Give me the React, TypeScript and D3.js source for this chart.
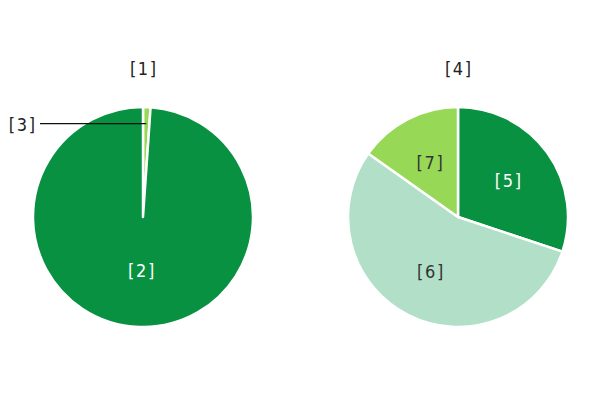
import React from "react";
import * as d3 from "d3";

const pie1Labels = ["[ 3 ]", "[ 2 ]"];
const pie1Values = [1.1, 98.9];
const pie1Colors = ["#97d957", "#079140"];
const pie1Title = "[ 1 ]";

const pie2Labels = ["[ 5 ]", "[ 6 ]", "[ 7 ]"];
const pie2Values = [30.1, 54.7, 15.2];
const pie2Colors = ["#079140", "#b1dfc8", "#97d957"];
const pie2Title = "[ 4 ]";

const W = 600, H = 400, R = 110;
const FONT = "'DejaVu Sans Condensed', 'Liberation Sans Narrow', sans-serif";
const FS = 18;

function Label(props: any) {
  return (
    <text {...props} fontSize={FS} fontFamily={FONT} fontWeight={300} style={{ wordSpacing: "-3.5px", fontStretch: "condensed" }} />
  );
}

function Pie({ cx, cy, labels, values, colors, title, insideTextColors, outsideIdx, labelR }: any) {
  const arcs = d3.pie<number>().sort(null)(values);
  const arc = d3.arc<any>().innerRadius(0).outerRadius(R);
  const labelArc = d3.arc<any>().innerRadius(R * labelR).outerRadius(R * labelR);
  return (
    <g transform={`translate(${cx},${cy})`}>
      <Label x={0} y={-R - 38} dy="0.35em" textAnchor="middle" fill="#222">{title}</Label>
      {arcs.map((a, i) => (
        <path key={i} d={arc(a) as string} fill={colors[i]} stroke="#fff" strokeWidth={2.5} strokeLinejoin="round" />
      ))}
      {arcs.map((a, i) => {
        if (i === outsideIdx) {
          const mid = (a.startAngle + a.endAngle) / 2;
          const px = Math.sin(mid) * (R * 0.85);
          const py = -Math.cos(mid) * (R * 0.85);
          return (
            <g key={"l" + i}>
              <line x1={px} y1={py} x2={-R + 7} y2={py} stroke="#111" strokeWidth={1.2} />
              <Label x={-R + 2} y={py + 1} dy="0.35em" textAnchor="end" fill="#222">{labels[i]}</Label>
            </g>
          );
        }
        const [x, y] = labelArc.centroid(a);
        return (
          <Label key={"t" + i} x={x} y={y} dy="0.35em" textAnchor="middle" fill={insideTextColors[i]}>{labels[i]}</Label>
        );
      })}
    </g>
  );
}

export default function App() {
  return (
    <svg width={W} height={H} style={{ display: "block", position: "absolute", left: 0, top: 0 }}>
      <rect width={W} height={H} fill="#fff" />
      <Pie cx={143} cy={217} labels={pie1Labels} values={pie1Values} colors={pie1Colors} title={pie1Title}
        insideTextColors={["#222", "#fff"]} outsideIdx={0} labelR={0.49} />
      <Pie cx={458} cy={217} labels={pie2Labels} values={pie2Values} colors={pie2Colors} title={pie2Title}
        insideTextColors={["#fff", "#333", "#333"]} outsideIdx={-1} labelR={0.56} />
    </svg>
  );
}
